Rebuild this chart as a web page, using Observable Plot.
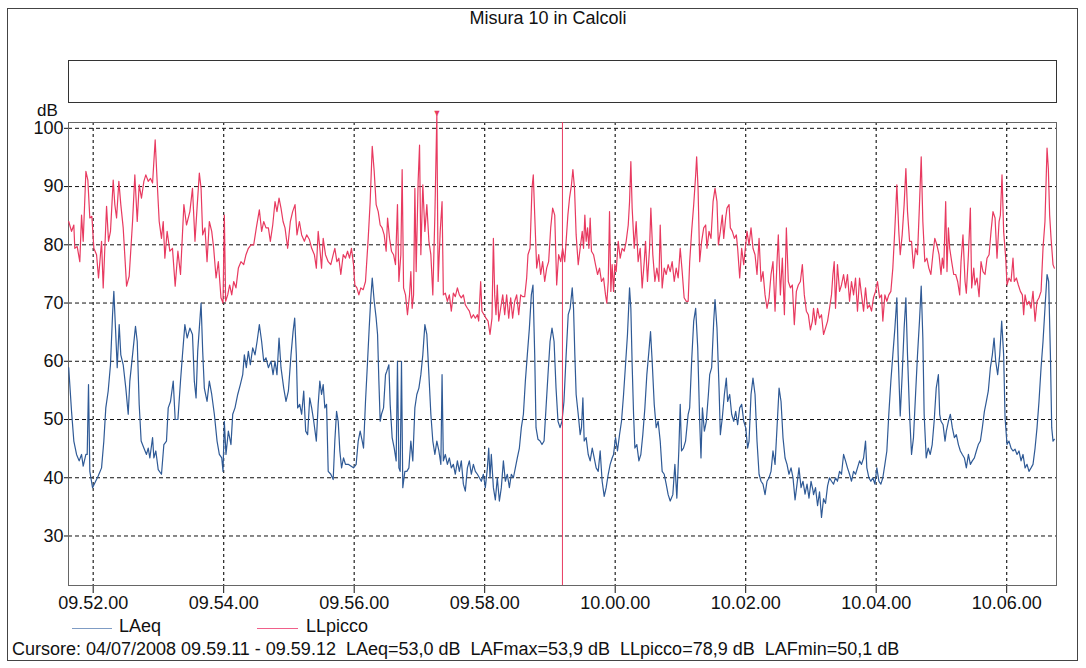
<!DOCTYPE html>
<html><head><meta charset="utf-8">
<script src="https://cdn.jsdelivr.net/npm/d3@7"></script>
<script src="https://cdn.jsdelivr.net/npm/@observablehq/plot@0.6"></script>
<style>
body{margin:0;background:#fff;font-family:"Liberation Sans",Arial,sans-serif;color:#111}
#page{position:relative;width:1086px;height:668px;overflow:hidden;background:#fff}
.abs{position:absolute}
#chart{left:0;top:0}
#outer{left:7px;top:8px;width:1071px;height:653px;border:1px solid #444;box-sizing:border-box}
#title{left:0;width:1096px;top:8px;text-align:center;font-size:18px}
#box{left:68px;top:60px;width:989px;height:43px;border:1px solid #333;box-sizing:border-box}
#db{left:37px;top:101px;font-size:17px}
.lg{top:616px;font-size:18px;white-space:pre}
.sw{height:0;border-top:1.5px solid;top:628px}
#cursor{left:12px;top:639px;font-size:18px;white-space:pre}
</style></head>
<body><div id="page">
<div id="chart" class="abs"></div>
<div id="outer" class="abs"></div>
<div id="title" class="abs">Misura 10 in Calcoli</div>
<div id="box" class="abs"></div>
<div id="db" class="abs">dB</div>
<div class="abs sw" id="swA" style="left:72px;width:40px"></div>
<div class="abs lg" id="lgA" style="left:119px"></div>
<div class="abs sw" id="swB" style="left:257px;width:41px"></div>
<div class="abs lg" id="lgB" style="left:306px"></div>
<div id="cursor" class="abs"></div>
</div>
<script>
// series names and colours
const seriesNames = ["LAeq", "LLpicco"];
const seriesColors = ["#2f5a96", "#e83a60"];
// time in seconds from 09.52.00, level in dB
const laeq = [[-22.5,58.9],[-19.9,51.4],[-17.8,46.3],[-15.3,44.0],[-12.9,42.9],[-10.7,44.0],[-9.2,42.0],[-6.7,44.0],[-5.5,44.0],[-4.3,56.0],[-3.1,41.1],[-0.6,38.3],[1.5,39.1],[4.6,40.3],[7.7,41.7],[9.8,46.3],[11.6,52.0],[13.8,54.9],[15.9,59.4],[17.8,68.0],[19.0,72.0],[20.5,65.7],[22.1,58.9],[23.9,66.3],[25.4,61.1],[27.6,59.4],[30.0,55.4],[32.2,50.9],[33.7,56.6],[36.2,61.1],[38.9,66.0],[40.5,63.4],[42.3,52.6],[44.1,46.3],[46.6,45.1],[49.0,44.0],[50.6,45.1],[52.1,43.4],[54.6,46.9],[55.8,43.4],[57.6,44.6],[59.8,41.4],[62.8,40.6],[65.0,45.7],[67.4,46.3],[69.0,52.0],[71.1,53.1],[73.6,56.6],[75.4,50.0],[77.9,50.0],[80.3,56.6],[82.1,61.1],[84.3,66.3],[86.4,64.0],[88.9,65.7],[91.3,64.6],
[93.0,56.6],[94.6,53.7],[96.1,61.7],[97.6,65.7],[99.2,70.0],[100.7,61.7],[102.2,55.4],[104.7,53.1],[106.8,56.6],[109.0,54.3],[111.4,50.9],[113.9,46.3],[116.0,44.0],[118.2,43.4],[119.4,41.1],[120.6,49.7],[122.1,44.0],[124.3,48.0],[126.7,45.7],[128.3,50.9],[130.4,52.0],[132.9,54.3],[135.3,56.0],[137.5,57.7],[139.0,61.1],[140.8,58.9],[142.7,61.7],[144.5,59.4],[146.7,62.3],[148.8,61.1],[150.7,63.4],[152.8,66.3],[154.9,63.4],[156.8,60.0],[158.9,60.6],[161.1,58.9],[163.5,60.0],[165.4,57.7],[167.2,60.0],[169.0,57.7],[170.9,64.0],[172.7,58.9],[175.2,55.4],[177.3,53.1],[179.5,54.9],[181.9,61.1],[183.8,65.1],[185.3,67.4],[186.8,61.1],[188.0,52.0],[189.9,52.6],[191.7,50.9],[193.6,54.9],[195.4,48.0],[197.2,47.4],[199.1,53.7],[200.9,52.0],[202.8,49.7],[205.2,46.3],
[206.9,52.6],[208.4,56.6],[210.0,54.3],[211.5,56.0],[213.0,52.0],[214.6,52.6],[216.1,41.1],[218.5,40.6],[220.7,39.7],[222.2,46.3],[223.8,51.4],[225.3,49.7],[226.8,44.6],[228.4,41.7],[230.2,43.4],[232.0,42.3],[234.5,42.3],[236.9,42.0],[239.4,41.7],[241.8,42.3],[243.7,46.3],[245.5,48.0],[247.4,46.3],[248.6,45.1],[250.4,53.1],[252.3,60.0],[253.8,65.7],[255.3,70.9],[256.6,74.3],[258.4,70.3],[260.2,67.4],[261.5,64.6],[262.7,56.6],[263.9,49.7],[265.1,50.9],[267.0,52.0],[268.8,57.7],[270.0,58.3],[271.9,59.4],[273.1,52.6],[274.9,46.9],[276.8,45.1],[278.6,42.9],[279.8,60.0],[281.1,41.7],[282.3,41.1],[283.5,60.0],[284.7,38.3],[286.6,41.1],[288.4,41.1],[290.3,41.7],[292.1,46.3],[293.9,42.9],[295.8,52.0],[297.6,54.3],[299.5,55.4],[301.3,57.7],[303.1,61.1],[305.0,66.3],[306.8,64.6],[308.7,57.7],[310.5,50.9],[312.3,46.3],[314.2,44.0],[316.0,46.3],[317.9,44.6],[319.7,42.3],
[320.8,57.7],[322.0,42.9],[323.8,44.0],[325.7,42.3],[327.5,43.4],[329.3,41.7],[331.2,42.3],[333.0,40.6],[334.9,42.9],[336.7,41.1],[338.5,42.9],[340.4,38.9],[342.2,37.7],[344.1,41.7],[345.9,42.9],[347.7,40.6],[349.6,42.3],[351.4,41.1],[353.3,40.6],[355.1,40.0],[356.9,39.4],[358.8,40.6],[360.6,38.3],[362.5,41.7],[363.7,45.1],[364.9,40.0],[366.1,44.0],[368.0,38.3],[369.8,36.2],[371.6,40.0],[373.5,36.0],[375.3,38.3],[377.2,42.9],[379.0,39.4],[380.8,40.6],[382.7,38.3],[384.5,40.6],[386.4,40.0],[388.2,41.7],[390.0,43.4],[391.9,45.1],[393.7,48.6],[395.6,50.9],[397.4,56.6],[399.2,61.1],[401.1,65.7],[402.9,71.4],[404.4,73.1],[406.0,61.1],[407.2,48.6],[409.0,46.6],[410.9,46.3],[412.7,45.7],[414.6,46.3],[416.4,52.0],[418.2,57.7],[420.1,63.4],[421.9,65.7],[423.8,63.4],[425.6,55.4],[427.4,49.7],[429.3,48.6],[431.1,49.7],[432.9,53.1],
[434.9,61.1],[436.8,68.0],[438.6,69.1],[440.5,72.6],[441.7,69.1],[442.9,61.1],[444.1,54.3],[446.0,50.9],[447.8,47.4],[449.0,48.6],[450.3,53.7],[451.5,46.3],[453.3,46.9],[455.2,44.0],[457.0,42.9],[458.9,45.1],[460.7,43.4],[462.5,41.7],[464.4,41.1],[466.2,44.6],[468.0,39.4],[469.9,36.8],[471.7,38.3],[473.6,40.6],[475.4,42.3],[477.2,43.4],[478.5,44.0],[480.3,46.9],[482.1,44.6],[484.0,47.4],[485.8,49.7],[487.7,54.3],[489.5,59.4],[491.3,64.6],[493.2,72.6],[494.4,69.1],[495.6,59.4],[496.9,50.9],[498.1,45.1],[499.9,45.7],[501.8,42.9],[503.6,44.0],[505.4,47.4],[507.3,52.0],[509.1,57.7],[511.0,61.7],[512.5,65.1],[514.0,60.0],[515.9,52.6],[517.7,48.6],[519.5,49.7],[521.4,46.3],[523.2,41.1],[525.1,40.6],[526.9,38.9],[528.7,37.1],[530.6,36.0],[533.0,37.1],[534.9,42.3],[536.7,36.5],[538.5,44.6],[539.8,52.6],[541.0,44.6],[542.8,45.1],[544.7,46.3],[547.1,50.9],
[548.5,52.0],[550.3,60.0],[552.2,66.9],[554.0,69.1],[555.9,62.3],[557.7,49.7],[558.9,43.4],[560.2,52.0],[562.0,48.0],[563.8,49.7],[565.7,54.3],[566.9,57.7],[568.7,58.9],[570.6,66.9],[571.8,70.6],[573.6,65.7],[575.5,55.4],[576.7,47.4],[578.5,50.3],[580.4,54.3],[582.2,57.1],[583.4,53.1],[585.3,54.3],[587.1,50.9],[589.0,49.7],[590.8,51.4],[592.6,49.1],[594.5,52.0],[596.3,52.6],[598.2,49.7],[600.0,48.6],[601.8,45.1],[603.1,46.3],[604.9,54.3],[606.7,57.1],[608.6,54.3],[610.4,46.3],[612.3,40.6],[614.1,39.4],[615.9,38.9],[617.8,37.1],[619.6,39.4],[621.5,40.0],[623.3,41.1],[625.1,44.6],[627.0,42.3],[628.8,48.6],[630.7,55.4],[632.5,53.1],[634.3,46.9],[636.2,43.4],[638.0,42.3],[639.8,40.6],[641.7,41.7],[643.5,40.0],[645.4,36.2],[647.2,38.9],[649.0,41.7],[650.9,38.3],[652.7,39.4],[654.6,37.2],[656.4,38.9],[658.2,36.5],[660.1,39.4],[661.9,37.8],
[662.4,37.1],[664.2,38.3],[666.1,35.2],[667.9,37.6],[669.7,33.2],[671.6,36.4],[673.4,35.6],[675.3,38.6],[677.1,40.0],[678.9,39.4],[680.8,38.9],[682.6,40.0],[684.4,39.4],[686.3,41.1],[688.1,40.6],[690.0,44.0],[691.8,42.9],[693.6,41.7],[695.5,40.6],[697.3,39.4],[699.2,41.1],[701.0,40.6],[702.8,41.7],[704.7,42.9],[706.5,42.3],[708.4,43.4],[710.2,46.3],[711.4,41.7],[713.3,40.0],[715.1,39.4],[716.9,40.0],[718.8,38.9],[720.6,41.7],[722.5,39.4],[724.3,38.9],[726.1,40.0],[728.0,42.3],[729.8,44.6],[731.6,50.9],[733.5,56.6],[735.3,61.1],[737.2,65.7],[739.0,70.9],[740.2,61.1],[742.1,50.6],[743.9,57.7],[745.7,65.7],[747.3,70.9],[748.8,61.1],[750.7,50.9],[752.5,44.0],[754.3,46.9],[756.2,54.3],[758.0,61.1],[759.8,66.9],[761.4,72.9],[762.9,64.0],[764.1,50.9],[766.0,43.4],[767.8,45.1],[769.7,44.0],[771.5,45.7],[773.3,49.7],[775.2,55.4],
[777.2,57.7],[778.4,50.9],[779.6,49.7],[781.5,49.1],[783.3,46.3],[784.5,48.0],[786.4,49.7],[788.2,50.9],[790.0,48.6],[791.9,46.9],[793.7,47.4],[795.6,45.7],[797.4,44.6],[799.2,44.0],[801.1,43.4],[802.9,41.7],[804.8,44.0],[806.6,42.3],[808.4,42.9],[810.3,43.4],[812.1,44.6],[813.9,45.7],[815.8,46.3],[817.6,48.6],[819.5,51.4],[821.3,53.1],[823.1,54.9],[825.0,58.9],[826.8,61.1],[828.4,64.0],[829.9,60.0],[831.7,57.7],[833.6,61.1],[835.4,66.9],[837.2,61.1],[838.5,50.3],[840.3,45.7],[842.1,46.3],[844.0,45.1],[845.8,44.6],[847.7,44.9],[849.5,44.0],[851.3,44.6],[853.2,42.9],[855.0,44.0],[856.9,41.7],[858.7,42.3],[860.5,41.1],[862.4,41.7],[864.2,42.3],[866.1,45.1],[867.9,48.6],[869.7,53.1],[871.6,58.9],[873.4,63.4],[875.2,69.1],[877.1,74.9],[878.6,73.7],[880.2,61.1],[881.4,48.6],[882.6,46.3],[883.8,46.6]];
const llpicco = [[-22.5,84.0],[-19.9,82.3],[-17.8,83.4],[-16.9,79.4],[-14.7,79.7],[-12.3,77.1],[-10.7,85.1],[-9.2,80.6],[-6.7,92.6],[-4.9,91.1],[-3.1,84.6],[-1.2,84.9],[0.6,79.4],[3.1,78.3],[4.9,74.3],[7.7,80.6],[9.2,72.6],[12.3,86.6],[14.1,80.6],[15.9,82.3],[18.4,91.1],[19.9,86.9],[21.5,84.6],[23.6,90.9],[25.4,86.9],[27.6,82.9],[30.7,72.9],[33.1,74.6],[36.2,84.0],[38.3,92.0],[40.5,84.0],[42.3,90.3],[44.4,88.0],[46.6,90.9],[48.4,92.0],[50.6,90.9],[52.7,91.4],[54.6,90.6],[57.0,98.0],[58.8,90.9],[60.7,84.0],[62.8,81.1],[64.4,84.0],[65.9,77.7],[68.0,82.3],[70.5,78.9],[72.9,79.4],[75.4,72.9],[77.9,78.9],[80.3,74.9],[83.4,86.9],[85.8,83.4],[88.9,85.7],[91.3,89.7],
[93.6,80.6],[95.5,86.3],[97.6,92.3],[99.2,89.7],[100.7,81.7],[102.8,82.9],[104.7,77.1],[106.8,84.0],[109.0,82.3],[110.8,79.4],[113.0,74.3],[115.1,77.1],[117.5,70.9],[119.4,70.0],[120.6,85.1],[121.8,70.3],[123.7,71.4],[125.5,73.1],[127.4,71.4],[129.2,73.7],[131.3,72.6],[133.5,76.0],[135.9,77.1],[138.4,76.6],[140.5,78.3],[142.7,79.4],[145.1,80.0],[147.6,80.0],[150.0,82.9],[152.8,86.0],[154.9,82.3],[156.8,84.0],[158.9,82.9],[161.1,82.9],[162.9,80.6],[165.1,83.4],[167.2,87.4],[169.0,85.7],[170.9,88.0],[172.7,86.3],[174.6,84.0],[176.4,82.9],[178.8,79.4],[181.3,84.0],[183.4,85.7],[185.6,86.9],[187.4,81.7],[189.6,84.0],[191.7,81.7],[194.2,80.6],[196.3,81.7],[198.8,80.9],[200.9,79.4],[203.4,78.3],[205.2,76.0],
[206.9,82.3],[208.4,79.4],[210.0,76.0],[211.5,81.1],[213.6,78.3],[216.1,77.1],[218.5,76.6],[220.7,78.3],[222.2,79.4],[224.1,77.1],[225.9,77.7],[227.7,74.9],[229.9,78.3],[232.0,77.7],[233.9,78.9],[235.7,77.7],[237.5,79.4],[239.4,76.6],[240.6,73.1],[242.5,72.6],[244.3,71.4],[246.1,72.6],[248.3,72.3],[250.4,73.7],[252.9,81.1],[254.7,87.4],[256.6,96.9],[258.4,92.6],[260.2,86.9],[262.1,85.7],[263.9,83.4],[265.7,82.9],[267.6,81.7],[269.4,78.9],[270.7,84.6],[272.5,81.1],[274.3,78.9],[276.2,78.3],[278.0,76.6],[279.8,86.9],[281.1,73.7],[282.9,78.3],[284.1,92.9],[285.4,72.6],[287.2,71.4],[289.0,68.0],[290.9,71.4],[292.1,75.4],[293.3,69.1],[294.6,71.4],[295.8,89.7],[297.0,75.4],[298.8,90.9],[300.1,97.1],[301.3,78.3],[303.1,90.3],[305.0,82.3],[306.8,86.9],[308.7,80.6],[310.5,78.3],[312.3,71.4],[314.2,85.1],[316.0,102.3],[317.2,73.7],[319.1,82.3],
[320.8,87.4],[322.0,71.4],[323.8,71.7],[325.7,70.3],[327.5,71.4],[329.3,68.6],[331.2,71.7],[333.0,71.1],[334.9,72.6],[336.7,71.4],[338.5,70.9],[340.4,71.4],[342.2,69.7],[344.1,69.1],[345.9,68.6],[347.7,67.4],[349.6,68.0],[351.4,67.4],[353.3,68.0],[354.5,66.9],[356.3,73.7],[357.5,68.6],[359.4,68.0],[361.2,67.4],[363.1,66.9],[364.9,64.6],[366.7,67.4],[368.0,81.1],[369.2,71.4],[370.4,68.0],[371.6,73.1],[372.9,66.9],[374.7,69.1],[376.6,71.4],[378.4,68.0],[380.2,71.4],[382.1,67.4],[383.9,70.9],[385.7,67.4],[387.6,70.3],[389.4,71.4],[391.3,68.0],[393.1,71.4],[394.9,71.1],[396.8,71.1],[398.6,74.3],[399.8,78.3],[401.7,79.4],[403.5,89.7],[404.7,92.0],[406.0,85.1],[407.8,76.0],[409.7,78.3],[411.5,74.9],[413.3,77.1],[415.2,73.7],[417.0,76.0],[418.8,77.1],[420.7,82.9],[422.5,86.3],[424.4,85.1],[426.2,73.1],[428.0,78.3],[429.9,77.1],[431.7,79.4],[433.6,77.1],
[434.9,80.6],[436.5,85.1],[438.0,88.0],[439.8,90.3],[441.1,92.9],[442.6,89.7],[444.1,81.7],[446.0,76.6],[447.8,79.4],[449.7,82.3],[450.9,79.4],[452.1,85.1],[453.3,80.6],[454.6,82.9],[455.8,79.4],[457.0,84.6],[458.2,78.9],[460.1,78.3],[461.9,76.6],[463.8,74.9],[465.6,76.0],[467.4,73.7],[469.3,74.3],[471.1,71.4],[472.3,70.0],[473.6,73.7],[474.8,85.7],[476.0,72.0],[477.2,76.6],[478.5,72.0],[479.7,76.6],[480.9,75.4],[482.8,80.6],[484.6,77.7],[486.4,79.4],[488.3,78.9],[490.1,80.6],[492.0,83.4],[493.2,87.4],[494.4,94.3],[495.6,86.3],[497.5,79.4],[499.3,84.0],[501.1,77.1],[503.0,79.4],[504.8,72.6],[506.7,77.1],[507.9,80.6],[509.7,73.7],[511.6,79.4],[512.8,86.3],[514.6,78.3],[516.5,73.7],[518.3,76.0],[520.2,73.7],[521.4,83.4],[523.2,72.6],[525.1,76.0],[526.9,74.9],[528.7,76.6],[530.6,75.4],[532.4,77.1],[534.3,73.7],[536.1,76.0],[537.9,74.3],[539.8,79.4],[541.6,75.4],[543.4,70.9],[545.3,70.3],[547.1,70.3],
[548.5,77.1],[550.3,82.3],[552.2,86.9],[554.0,92.0],[554.9,95.1],[556.2,89.7],[557.7,77.1],[559.5,80.6],[561.4,82.9],[563.2,83.4],[564.4,79.4],[566.3,82.3],[568.1,81.1],[570.0,87.4],[571.8,89.7],[573.6,87.4],[574.9,80.0],[576.7,82.3],[578.5,85.1],[579.8,81.1],[581.6,84.6],[582.8,86.3],[584.7,86.9],[585.9,82.9],[587.7,82.3],[589.6,81.1],[591.4,81.7],[592.6,79.4],[594.5,74.3],[596.3,79.4],[598.2,76.6],[600.0,80.0],[601.2,82.3],[603.1,80.0],[604.9,82.9],[606.7,79.4],[608.6,78.3],[610.4,74.9],[612.3,81.1],[614.1,73.7],[615.9,75.4],[617.8,71.4],[619.6,69.1],[621.5,70.9],[623.3,74.9],[625.1,77.1],[627.0,68.6],[628.8,77.1],[630.0,81.7],[631.9,71.4],[633.7,77.7],[635.6,68.0],[637.4,82.9],[639.2,73.7],[641.1,72.6],[642.9,73.1],[644.7,66.3],[646.6,72.0],[648.4,73.1],[650.3,73.7],[652.1,76.6],[653.9,71.4],[655.8,68.6],[657.6,68.0],[659.5,65.4],[661.3,66.9],
[662.4,69.1],[664.2,66.3],[666.1,69.1],[667.9,67.4],[669.7,68.0],[671.6,64.6],[673.4,65.7],[675.3,66.9],[677.1,69.1],[678.9,71.4],[680.2,74.9],[681.4,77.1],[682.6,69.1],[684.4,76.6],[686.3,72.0],[688.1,73.1],[690.0,74.9],[691.8,72.6],[693.6,74.9],[695.5,70.3],[697.3,73.7],[699.2,71.4],[701.0,74.3],[702.8,68.6],[704.7,74.3],[706.5,71.4],[708.4,68.6],[710.2,72.6],[712.0,69.1],[713.9,69.7],[715.7,68.6],[717.5,70.9],[719.4,72.0],[721.2,73.7],[723.1,70.9],[724.9,71.4],[726.1,66.9],[728.0,71.4],[729.8,70.3],[731.6,71.4],[733.5,72.0],[735.3,76.0],[737.2,82.9],[739.0,90.3],[740.8,82.3],[742.1,78.3],[743.9,81.7],[745.7,86.9],[747.3,93.1],[748.8,85.7],[750.7,80.6],[752.5,80.6],[754.3,76.0],[756.2,79.4],[758.0,78.3],[759.8,86.9],[761.4,95.1],[762.9,84.0],[764.7,77.1],[766.6,77.7],[768.4,76.0],[770.3,74.9],[772.1,78.3],[773.9,81.1],[775.8,80.0],
[777.8,78.3],[779.6,74.9],[780.8,77.7],[782.1,76.0],[783.9,87.4],[785.1,75.4],[786.4,82.9],[787.6,79.4],[789.4,77.1],[791.3,74.9],[793.1,74.9],[794.9,73.7],[796.8,71.4],[798.0,77.1],[799.8,81.7],[801.7,73.7],[802.9,71.7],[804.8,78.3],[806.6,86.3],[807.8,72.6],[809.7,76.0],[810.9,73.1],[812.7,74.3],[814.6,71.1],[816.4,77.1],[818.2,75.4],[820.1,74.9],[821.9,77.7],[823.8,78.3],[825.6,82.3],[827.4,85.7],[829.3,84.6],[831.1,77.7],[833.0,84.0],[834.2,85.1],[835.7,92.0],[837.2,82.3],[839.1,77.7],[840.3,73.1],[842.1,74.3],[844.0,73.7],[845.8,77.7],[847.0,73.7],[848.9,74.3],[850.7,73.1],[852.6,72.0],[854.4,71.4],[855.6,68.0],[856.9,71.4],[858.7,69.7],[860.5,70.3],[862.4,69.1],[864.2,72.0],[866.1,66.9],[867.9,70.3],[869.7,70.9],[871.6,72.0],[873.4,79.4],[875.2,84.0],[877.1,96.6],[878.3,93.1],[879.5,85.1],[880.8,81.1],[882.6,76.6],[883.8,76.0]];
// axis ticks
const xTicks = [0, 120, 240, 360, 480, 600, 720, 840];   // 09.52.00 ... 10.06.00
const yTicks = [30, 40, 50, 60, 70, 80, 90, 100];
const xDomain = [-22.7, 885.8];
const yDomain = [21.5, 101.0];
// cursor and maximum marker
const cursorT = 431.5;          // 09.59.11
const peakMark = [{t: 316.0, v: 102.6}];
const cursorText = "Cursore: 04/07/2008 09.59.11 - 09.59.12  LAeq=53,0 dB  LAFmax=53,9 dB  LLpicco=78,9 dB  LAFmin=50,1 dB";

const T0 = 9 * 3600 + 52 * 60;
const fmt = s => {
  const t = Math.round(T0 + s);
  const h = Math.floor(t / 3600), m = Math.floor((t % 3600) / 60), ss = t % 60;
  return [h, m, ss].map(v => String(v).padStart(2, "0")).join(".");
};
const rows = (pairs, name) => pairs.map(([t, v]) => ({t, v, name}));

const chart = Plot.plot({
  width: 1086, height: 640,
  marginLeft: 68, marginRight: 30, marginTop: 122, marginBottom: 55,
  style: {fontFamily: "'Liberation Sans', Arial, sans-serif", fontSize: "18px", background: "transparent", color: "#111"},
  x: {domain: xDomain, ticks: xTicks, tickFormat: fmt, tickSize: 8, tickPadding: 3, label: null},
  y: {domain: yDomain, ticks: yTicks, tickSize: 4, tickPadding: 1, label: null},
  marks: [
    Plot.ruleY(yTicks, {stroke: "#111", strokeWidth: 1, strokeDasharray: "4,3"}),
    Plot.ruleX(xTicks, {stroke: "#222", strokeWidth: 1.2, strokeDasharray: "3,3"}),
    Plot.frame({stroke: "#666"}),
    Plot.line(rows(llpicco, seriesNames[1]), {x: "t", y: "v", stroke: seriesColors[1], strokeWidth: 1.2}),
    Plot.line(rows(laeq, seriesNames[0]), {x: "t", y: "v", stroke: seriesColors[0], strokeWidth: 1.2}),
    Plot.ruleX([cursorT], {stroke: seriesColors[1], strokeWidth: 1}),
    Plot.text(peakMark, {x: "t", y: "v", text: () => "▼", fill: seriesColors[1], fontSize: 9})
  ]
});
document.getElementById("chart").appendChild(chart);

document.getElementById("lgA").textContent = seriesNames[0];
document.getElementById("lgB").textContent = seriesNames[1];
document.getElementById("swA").style.borderColor = "#7f9cc4";
document.getElementById("swB").style.borderColor = "#f0608a";
document.getElementById("cursor").textContent = cursorText;
</script>
</body></html>
